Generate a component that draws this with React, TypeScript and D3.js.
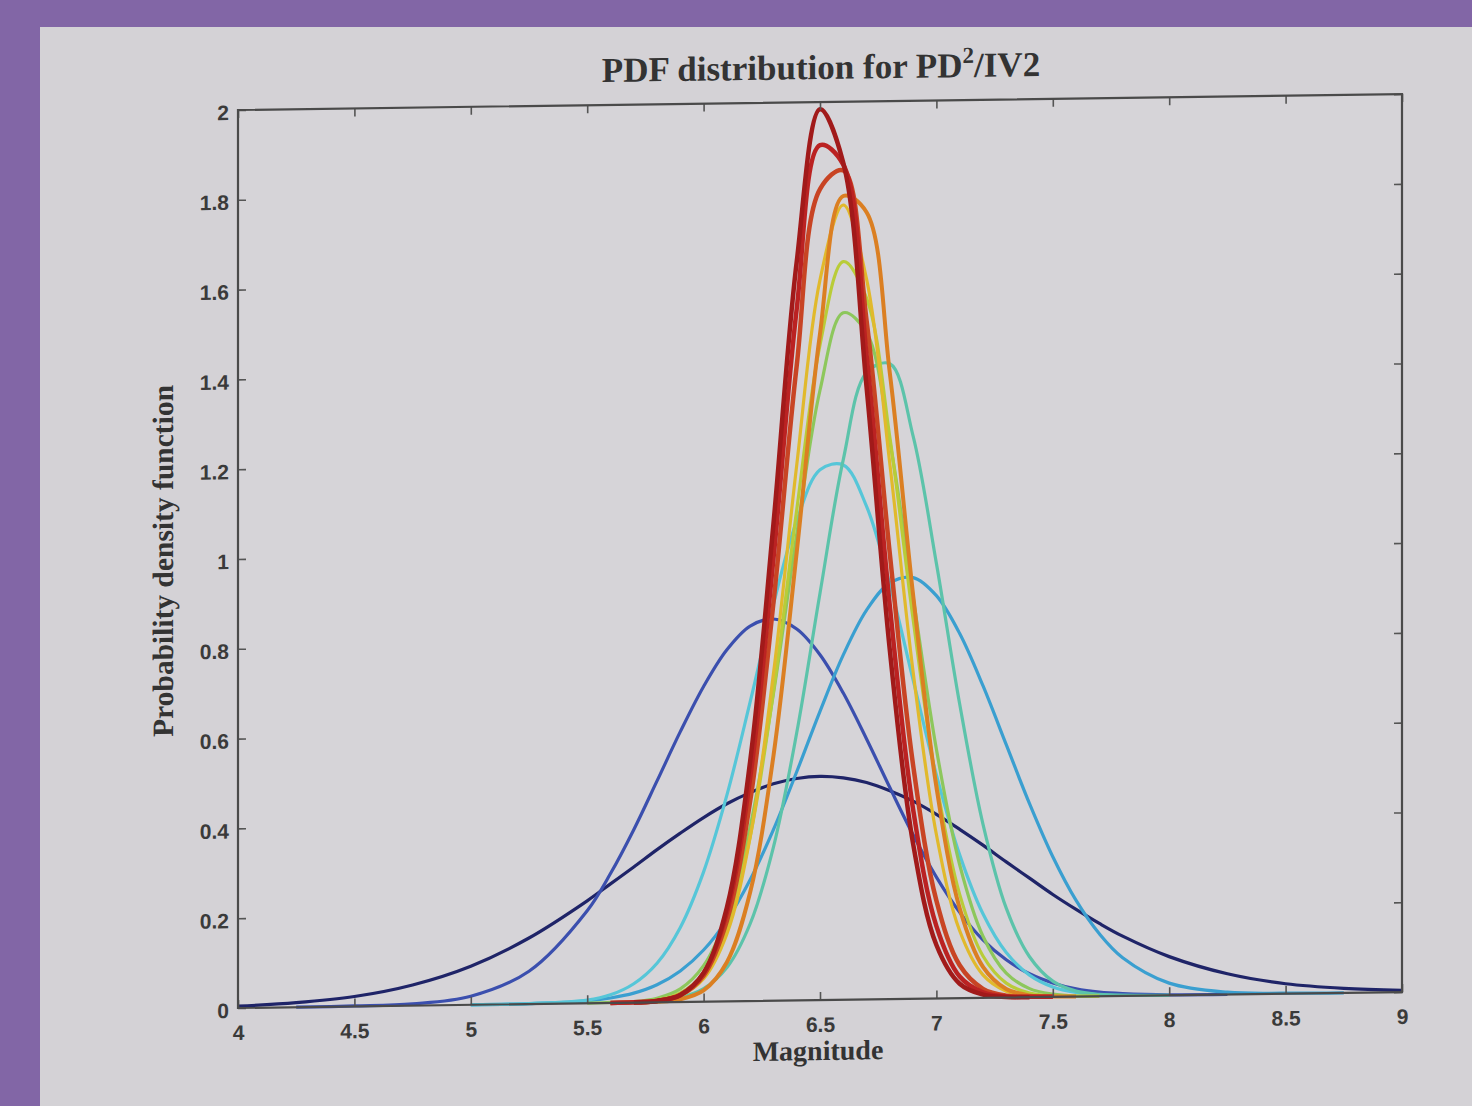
import React, { useRef, useEffect } from 'react';
import * as d3 from 'd3';

// magnitude grid the curves were read at
const magnitude = [4, 4.25, 4.5, 4.75, 5, 5.25, 5.5, 5.6, 5.7, 5.8, 5.9, 6, 6.1, 6.2, 6.3, 6.4, 6.5, 6.6, 6.7, 6.8, 6.9, 7, 7.1, 7.2, 7.3, 7.4, 7.5, 7.6, 7.7, 7.8, 8, 8.25, 8.5, 8.75, 9];

// probability density values, one list per curve
const pdfNavy = [0.004, 0.010, 0.022, 0.046, 0.086, 0.147, 0.228, 0.265, 0.302, 0.340, 0.376, 0.410, 0.440, 0.464, 0.483, 0.494, 0.498, 0.494, 0.483, 0.464, 0.440, 0.410, 0.376, 0.340, 0.302, 0.265, 0.228, 0.194, 0.162, 0.133, 0.086, 0.046, 0.022, 0.010, 0.004];
const pdfBlue = [0, 0, 0.001, 0.004, 0.019, 0.073, 0.206, 0.288, 0.385, 0.493, 0.602, 0.702, 0.783, 0.835, 0.850, 0.827, 0.769, 0.683, 0.580, 0.471, 0.365, 0.270, 0.191, 0.129, 0.084, 0.052, 0.031, 0.017, 0.009, 0.005, 0.001, 0, 0, 0, 0];
const pdfLightBlue = [0, 0, 0, 0, 0, 0.001, 0.005, 0.011, 0.021, 0.039, 0.069, 0.115, 0.181, 0.270, 0.381, 0.509, 0.643, 0.768, 0.867, 0.927, 0.938, 0.897, 0.812, 0.695, 0.563, 0.431, 0.312, 0.214, 0.139, 0.085, 0.027, 0.005, 0.001, 0, 0];
const pdfCyan = [0, 0, 0, 0, 0, 0.001, 0.007, 0.018, 0.042, 0.087, 0.166, 0.289, 0.459, 0.666, 0.883, 1.068, 1.181, 1.191, 1.098, 0.924, 0.710, 0.498, 0.319, 0.187, 0.100, 0.049, 0.022, 0.009, 0.003, 0.001, 0, 0, 0, 0, 0];
const pdfAqua = [0, 0, 0, 0, 0, 0, 0, 0, 0.001, 0.003, 0.010, 0.029, 0.075, 0.172, 0.342, 0.596, 0.906, 1.203, 1.396, 1.415, 1.253, 0.969, 0.655, 0.387, 0.199, 0.090, 0.035, 0.012, 0.004, 0.001, 0, 0, 0, 0, 0];
const pdfGreen = [0, 0, 0, 0, 0, 0, 0, 0.001, 0.002, 0.009, 0.029, 0.080, 0.190, 0.388, 0.684, 1.038, 1.358, 1.530, 1.485, 1.242, 0.895, 0.555, 0.297, 0.137, 0.054, 0.019, 0.006, 0.001, 0, 0, 0, 0, 0, 0, 0];
const pdfYellowGreen = [0, 0, 0, 0, 0, 0, 0, 0, 0.001, 0.005, 0.020, 0.062, 0.164, 0.366, 0.688, 1.092, 1.459, 1.644, 1.562, 1.251, 0.845, 0.481, 0.231, 0.093, 0.032, 0.009, 0.002, 0.001, 0, 0, 0, 0, 0, 0, 0];
const pdfYellow = [0, 0, 0, 0, 0, 0, 0, 0, 0.001, 0.003, 0.014, 0.051, 0.150, 0.365, 0.728, 1.192, 1.604, 1.770, 1.604, 1.192, 0.728, 0.365, 0.150, 0.051, 0.014, 0.003, 0.001, 0, 0, 0, 0, 0, 0, 0, 0];
const pdfOrange = [0, 0, 0, 0, 0, 0, 0, 0, 0, 0.001, 0.006, 0.025, 0.087, 0.242, 0.545, 0.998, 1.484, 1.790, 1.753, 1.394, 0.899, 0.471, 0.200, 0.069, 0.019, 0.004, 0.001, 0, 0, 0, 0, 0, 0, 0, 0];
const pdfRedOrange = [0, 0, 0, 0, 0, 0, 0, 0, 0.001, 0.003, 0.015, 0.058, 0.179, 0.445, 0.886, 1.414, 1.806, 1.847, 1.512, 0.991, 0.520, 0.218, 0.073, 0.020, 0.004, 0.001, 0, 0, 0, 0, 0, 0, 0, 0, 0];
const pdfRed = [0, 0, 0, 0, 0, 0, 0, 0, 0.001, 0.003, 0.016, 0.063, 0.198, 0.497, 0.984, 1.540, 1.904, 1.860, 1.435, 0.875, 0.422, 0.161, 0.048, 0.012, 0.002, 0.001, 0, 0, 0, 0, 0, 0, 0, 0, 0];
const pdfDarkRed = [0, 0, 0, 0, 0, 0, 0, 0, 0, 0.003, 0.015, 0.064, 0.209, 0.534, 1.062, 1.645, 1.984, 1.864, 1.364, 0.777, 0.345, 0.119, 0.032, 0.007, 0.001, 0, 0, 0, 0, 0, 0, 0, 0, 0, 0];

const curves = [pdfNavy, pdfBlue, pdfLightBlue, pdfCyan, pdfAqua, pdfGreen, pdfYellowGreen, pdfYellow, pdfOrange, pdfRedOrange, pdfRed, pdfDarkRed];
const curveColors = ['#1f2468', '#3b4fae', '#3a9fd0', '#56c6d8', '#5cc3aa', '#8dc75c', '#b9cc38', '#e1b92c', '#db7f22', '#c84424', '#bb2222', '#a11a1a'];

const xTicks = [4, 4.5, 5, 5.5, 6, 6.5, 7, 7.5, 8, 8.5, 9];
const xTickLabels = ['4', '4.5', '5', '5.5', '6', '6.5', '7', '7.5', '8', '8.5', '9'];
const yTicks = [0, 0.2, 0.4, 0.6, 0.8, 1, 1.2, 1.4, 1.6, 1.8, 2];
const yTickLabels = ['0', '0.2', '0.4', '0.6', '0.8', '1', '1.2', '1.4', '1.6', '1.8', '2'];

const width = 1472;
const height = 1106;
const left = 238;
const right = 1402;
const top = 110;
const bottom = 1008;

const App = () => {
  const svgRef = useRef(null);

  useEffect(() => {
    const svg = d3.select(svgRef.current);
    svg.selectAll('*').remove();

    // photographed slide: purple frame and grey page
    svg.append('rect').attr('width', width).attr('height', height).attr('fill', '#8266a6');
    svg.append('rect')
      .attr('x', 40).attr('y', 27)
      .attr('width', width - 40).attr('height', height - 27)
      .attr('fill', '#d4d2d6');

    // the photo is slightly sheared, so the whole figure is too
    const g = svg.append('g')
      .attr('transform', `translate(${left},0) skewY(-0.785) translate(${-left},0)`);

    const x = d3.scaleLinear().domain([4, 9]).range([left, right]);
    const y = d3.scaleLinear().domain([0, 2]).range([bottom, top]);

    g.append('rect')
      .attr('x', left).attr('y', top)
      .attr('width', right - left).attr('height', bottom - top)
      .attr('fill', '#d6d4d8');

    curves.forEach((vals, i) => {
      // skip the long runs lying flat on the axis
      const line = d3.line()
        .defined((d, j) => d > 0 || vals[j - 1] > 0 || vals[j + 1] > 0)
        .x((d, j) => x(magnitude[j]))
        .y(d => y(d))
        .curve(d3.curveCatmullRom.alpha(0.5));
      g.append('path')
        .attr('d', line(vals))
        .attr('fill', 'none')
        .attr('stroke', curveColors[i])
        .attr('stroke-width', i >= 9 ? 4.5 : i === 8 ? 4 : 3.2)
        .attr('stroke-linejoin', 'round');
    });

    const tickColor = '#555';
    const styleAxis = (sel) => {
      sel.select('.domain').remove();
      sel.selectAll('line').attr('stroke', tickColor).attr('stroke-width', 1.6);
      sel.selectAll('text')
        .attr('fill', '#3a3a3a')
        .style('font-family', '"Liberation Sans", Arial, sans-serif')
        .style('font-size', '21px')
        .style('font-weight', 'bold');
    };

    g.append('g')
      .attr('transform', `translate(0,${bottom})`)
      .call(d3.axisBottom(x).tickValues(xTicks).tickFormat((d, i) => xTickLabels[i])
        .tickSizeInner(-8).tickSizeOuter(0).tickPadding(17))
      .call(styleAxis);
    g.append('g')
      .attr('transform', `translate(0,${top})`)
      .call(d3.axisTop(x).tickValues(xTicks).tickFormat(() => '')
        .tickSizeInner(-8).tickSizeOuter(0))
      .call(styleAxis);
    g.append('g')
      .attr('transform', `translate(${left},0)`)
      .call(d3.axisLeft(y).tickValues(yTicks).tickFormat((d, i) => yTickLabels[i])
        .tickSizeInner(-8).tickSizeOuter(0).tickPadding(9))
      .call(styleAxis)
      .selectAll('text').attr('dy', '0.45em');
    g.append('g')
      .attr('transform', `translate(${right},0)`)
      .call(d3.axisRight(y).tickValues(yTicks).tickFormat(() => '')
        .tickSizeInner(-8).tickSizeOuter(0))
      .call(styleAxis);

    // axes box on top of the curves
    g.append('rect')
      .attr('x', left).attr('y', top)
      .attr('width', right - left).attr('height', bottom - top)
      .attr('fill', 'none')
      .attr('stroke', '#4a4a4a')
      .attr('stroke-width', 2.2);

    const serif = '"Liberation Serif", "Times New Roman", serif';

    const title = g.append('text')
      .attr('x', 821).attr('y', 87)
      .attr('text-anchor', 'middle')
      .attr('fill', '#333')
      .style('font-family', serif)
      .style('font-size', '35px')
      .style('font-weight', 'bold');
    title.append('tspan').text('PDF distribution for PD');
    title.append('tspan').attr('dy', -14).style('font-size', '23px').text('2');
    title.append('tspan').attr('dy', 14).text('/IV2');

    g.append('text')
      .attr('x', 818).attr('y', 1068)
      .attr('text-anchor', 'middle')
      .attr('fill', '#333')
      .style('font-family', serif)
      .style('font-size', '28px')
      .style('font-weight', 'bold')
      .text('Magnitude');

    g.append('text')
      .attr('transform', 'translate(173,560) rotate(-90)')
      .attr('text-anchor', 'middle')
      .attr('fill', '#333')
      .style('font-family', serif)
      .style('font-size', '29.5px')
      .style('font-weight', 'bold')
      .text('Probability density function');
  }, []);

  return (
    <svg ref={svgRef} width={width} height={height}
      style={{ position: 'absolute', left: 0, top: 0, display: 'block' }} />
  );
};

export default App;
